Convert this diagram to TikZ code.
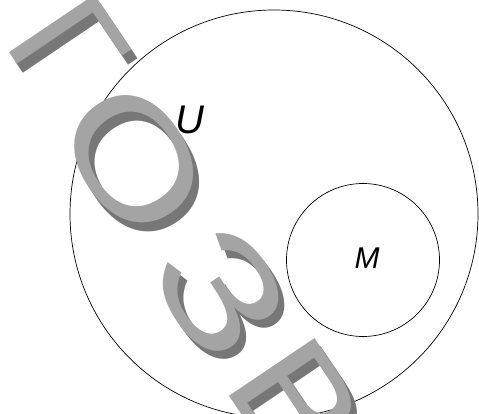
\documentclass[tikz,border=0pt]{standalone}
\usepackage{fontspec}
\setmainfont{Liberation Sans}
\definecolor{wmlight}{HTML}{A4A4A4}
\definecolor{wmdark}{HTML}{777777}
\tikzset{
  wm/.style={rotate=-56, inner sep=0pt, font=\fontsize{150}{152}\selectfont},
  wmfront/.style={wm, text=wmlight},
  wmback/.style={wm, text=wmdark},
  setcircle/.style={draw=black, line width=0.7pt, circle, inner sep=0pt},
  setlabel/.style={inner sep=0pt, font=\itshape}
}
\begin{document}
\begin{tikzpicture}[x=1pt,y=-1pt]
\useasboundingbox (0,0) rectangle (479,414);
\fill[white] (0,0) rectangle (479,414);
\clip (0,0) rectangle (479,414);
% sets
\node[setcircle, minimum size=408pt] (U) at (274,214) {};
\node[setcircle, minimum size=153pt] (M) at (363,260) {};
\node[setlabel, font=\itshape\fontsize{40}{42}\selectfont] (ulab) at (190,120) {U};
\node[setlabel, font=\itshape\fontsize{30}{32}\selectfont] (mlab) at (367,258) {M};
% watermark shadow
\node[wmback] (g1s) at (73.6,56.0) {Г};
\node[wmback, xscale=1.28] (g2s) at (140,168.6) {О};
\node[wmback, xscale=1.35] (g3s) at (227,300.6) {З};
\node[wmback, xscale=1.15] (g4s) at (302,411.6) {В};
% watermark front
\node[wmfront] (g1) at (67.6,47.4) {Г};
\node[wmfront, xscale=1.28] (g2) at (134,160) {О};
\node[wmfront, xscale=1.35] (g3) at (221,292) {З};
\node[wmfront, xscale=1.15] (g4) at (296,403) {В};
\end{tikzpicture}
\end{document}
